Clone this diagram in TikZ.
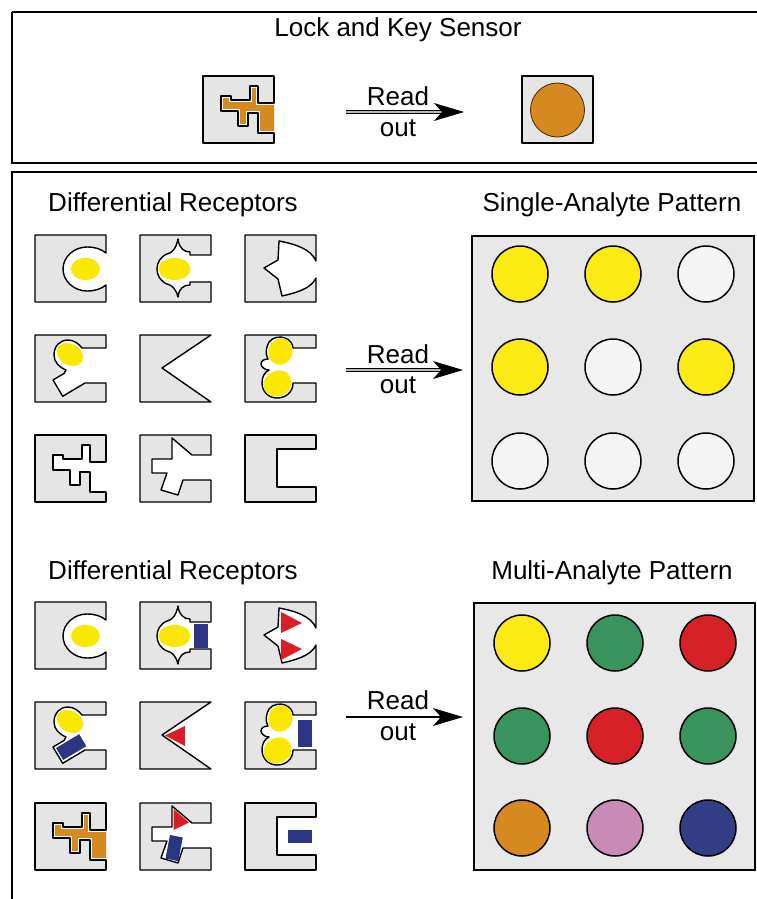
\documentclass[tikz,border=0pt]{standalone}
\usepackage{fontspec}
\setmainfont{Liberation Sans}
\usetikzlibrary{arrows.meta}
\definecolor{boxgray}{RGB}{229,229,229}
\definecolor{patgray}{RGB}{232,232,232}
\definecolor{ylw}{RGB}{250,232,0}
\definecolor{cyel}{RGB}{252,234,20}
\definecolor{cwhite}{RGB}{244,244,244}
\definecolor{cgreen}{RGB}{56,148,92}
\definecolor{cred}{RGB}{214,34,38}
\definecolor{corange}{RGB}{214,137,30}
\definecolor{cpink}{RGB}{201,139,181}
\definecolor{cnavy}{RGB}{52,62,134}
\definecolor{rblue}{RGB}{44,52,132}
\definecolor{rred}{RGB}{218,30,36}
% receptor boxes (local coords: 71 x 67, y downwards)
\newcommand\rcA{\path[rbox] (71,18) -- (71,0) -- (0,0) -- (0,67) -- (71,67) -- (71,50) .. controls (66,54) and (60,56) .. (52,56) .. controls (39,56) and (28,46) .. (28,34) .. controls (28,22) and (39,12) .. (52,12) .. controls (60,12) and (66,14) .. (71,18) -- cycle;}
\newcommand\ylwA{\fill[ylw] (50.5,34) ellipse [x radius=14.5, y radius=11];}
\newcommand\rcB{\path[rbox] (71,20) -- (71,0) -- (0,0) -- (0,67) -- (71,67) -- (71,47) -- (50,47) -- (50,50) .. controls (44,50) and (39,53) .. (38,62) .. controls (36,54) and (32,50) .. (27,49) .. controls (20,46) and (17,40) .. (17,34) .. controls (17,28) and (20,22) .. (27,19) .. controls (32,18) and (36,14) .. (38,4) .. controls (39,13) and (44,17) .. (50,17) -- (50,20) -- cycle;}
\newcommand\ylwB{\fill[ylw] (34.5,34) ellipse [x radius=16, y radius=11];}
\newcommand\rcC{\path[rbox] (71,26) -- (71,0) -- (0,0) -- (0,67) -- (71,67) -- (71,43) .. controls (66,54) and (50,58) .. (37,61) -- (33,44) -- (19,33) -- (33,25) -- (34,6) .. controls (50,9) and (66,14) .. (71,26) -- cycle;}
\newcommand\rcD{\path[rbox] (71,13) -- (71,0) -- (0,0) -- (0,67) -- (71,67) -- (71,48) -- (50,48) -- (27.7,61.3) -- (18,45) -- (29,38.5) -- (31,35) .. controls (24,32) and (19,27) .. (19,20) .. controls (19,11) and (25,5) .. (33,5) .. controls (39,5) and (44,9) .. (47,13) -- cycle;}
\newcommand\ylwD{\fill[ylw, rotate around={-30:(35,19.5)}] (35,19.5) ellipse [x radius=14, y radius=10.5];}
\newcommand\rcE{\path[rbox] (71,0) -- (0,0) -- (0,67) -- (71,67) -- (22,33) -- cycle;}
\newcommand\rcF{\path[rbox] (71,13) -- (71,0) -- (0,0) -- (0,67) -- (71,67) -- (71,48) -- (48,48) .. controls (48,57) and (41,63) .. (32,63) .. controls (23,63) and (17,56) .. (17,48) .. controls (17,41) and (20,37) .. (24,35) .. controls (19,35) and (16,31) .. (16,29) .. controls (16,26) and (19,24) .. (23,24) .. controls (20,19) and (21,12) .. (24,7) .. controls (28,2) and (35,1) .. (40,3) .. controls (45,5) and (48,9) .. (48,13) -- cycle;}
\newcommand\ylwF{\fill[ylw, rotate around={-20:(35.5,16.5)}] (35.5,16.5) ellipse [x radius=12, y radius=13.5];
  \fill[ylw, rotate around={30:(32.5,48.5)}] (32.5,48.5) ellipse [x radius=14.5, y radius=12.5];}
\newcommand\rcG{\path[rbox] (71,27) -- (71,0) -- (0,0) -- (0,67) -- (71,67) -- (71,57) -- (55,57) -- (55,37) -- (45,37) -- (45,50) -- (35,50) -- (35,35) -- (18,35) -- (18,20) -- (28,20) -- (28,24) -- (47,24) -- (47,10) -- (55,10) -- (55,27) -- cycle;}
\newcommand\keyG{\fill[corange] (71,57) -- (55,57) -- (55,37) -- (45,37) -- (45,50) -- (35,50) -- (35,35) -- (18,35) -- (18,20) -- (28,20) -- (28,24) -- (47,24) -- (47,10) -- (55,10) -- (55,27) -- (71,27) -- cycle;
  \begin{scope}
  \clip (71,57) -- (55,57) -- (55,37) -- (45,37) -- (45,50) -- (35,50) -- (35,35) -- (18,35) -- (18,20) -- (28,20) -- (28,24) -- (47,24) -- (47,10) -- (55,10) -- (55,27) -- (71,27) -- cycle;
  \draw[white, line width=3.6pt] (71,57) -- (55,57) -- (55,37) -- (45,37) -- (45,50) -- (35,50) -- (35,35) -- (18,35) -- (18,20) -- (28,20) -- (28,24) -- (47,24) -- (47,10) -- (55,10) -- (55,27) -- (71,27);
  \end{scope}}
\newcommand\rcH{\path[rbox] (71,20) -- (71,0) -- (0,0) -- (0,67) -- (71,67) -- (71,45) -- (43,45) -- (38,60) -- (21,55) -- (27,38) -- (12,38) -- (12,24) -- (32,24) -- (32,3) -- (52,20) -- cycle;}
\newcommand\rcI{\path[rbox] (71,14) -- (71,0) -- (0,0) -- (0,67) -- (71,67) -- (71,52) -- (32,52) -- (32,14) -- cycle;}
\begin{document}
\begin{tikzpicture}[x=1pt,y=-1pt,
  rbox/.style={fill=boxgray,draw=black,line width=1.4pt,line join=round},
  lbl/.style={font=\fontsize{26}{30}\selectfont, inner sep=0pt},
  panel/.style={draw=black,line width=1.4pt},
  pbox/.style={fill=patgray,draw=black,line width=1.6pt},
  dot/.style={circle,draw=black,line width=1.5pt,minimum size=56pt,inner sep=0pt},
  dshaft/.style={draw=black,line width=1.1pt,double=gray!55,double distance=1.8pt},
  sshaft/.style={draw=black,line width=2pt},
  ahead/.style={fill=black}]
\useasboundingbox (0,0) rectangle (757,899);
\clip (0,0) rectangle (757,899);
% panels
\draw[panel] (12,12) -- (765,12) (765,163) -- (12,163) -- (12,12);
\draw[panel, line width=2pt] (12,163) -- (765,163);
\draw[panel] (765,172) -- (12,172) -- (12,905);
% top panel
\node[lbl] (ttl) at (398,30) {Lock and Key Sensor};
\begin{scope}[shift={(203,76)}]\keyG\rcG\end{scope}
\path[rbox] (522,76) rectangle (593,143);
\node[circle, fill=corange, draw=black!70!corange, line width=0.8pt, minimum size=54pt, inner sep=0pt] (res) at (557.5,110) {};
% arrows
\coordinate (a1s) at (346,112); \coordinate (a1e) at (464,112);
\draw[dshaft] (a1s) -- ([xshift=-20pt]a1e);
\fill[ahead] (a1e) -- ++(-30,-9) -- ++(8,9) -- ++(-8,9) -- cycle;
\node[lbl] (r1) at (398,96) {Read};
\node[lbl] (o1) at (398,128) {out};
\coordinate (a2s) at (346,370); \coordinate (a2e) at (463,370);
\draw[dshaft] (a2s) -- ([xshift=-20pt]a2e);
\fill[ahead] (a2e) -- ++(-30,-9) -- ++(8,9) -- ++(-8,9) -- cycle;
\node[lbl] (r2) at (398,354) {Read};
\node[lbl] (o2) at (398,385) {out};
\coordinate (a3s) at (346,717); \coordinate (a3e) at (463,717);
\draw[sshaft] (a3s) -- ([xshift=-20pt]a3e);
\fill[ahead] (a3e) -- ++(-30,-9) -- ++(8,9) -- ++(-8,9) -- cycle;
\node[lbl] (r3) at (398,700) {Read};
\node[lbl] (o3) at (398,732) {out};
% headings
\node[lbl] (h1) at (173,205) {Differential Receptors};
\node[lbl] (h2) at (612,205) {Single-Analyte Pattern};
\node[lbl] (h3) at (173,573) {Differential Receptors};
\node[lbl] (h4) at (612,573) {Multi-Analyte Pattern};
% receptor grid 1
\begin{scope}[shift={(35,235)}]\rcA\ylwA\end{scope}
\begin{scope}[shift={(140,235)}]\rcB\ylwB\end{scope}
\begin{scope}[shift={(245,235)}]\rcC\end{scope}
\begin{scope}[shift={(35,335)}]\rcD\ylwD\end{scope}
\begin{scope}[shift={(140,335)}]\rcE\end{scope}
\begin{scope}[shift={(245,335)}]\rcF\ylwF\end{scope}
\begin{scope}[shift={(35,435)}]\rcG\end{scope}
\begin{scope}[shift={(140,435)}]\rcH\end{scope}
\begin{scope}[shift={(245,435)}]\rcI\end{scope}
% receptor grid 2
\begin{scope}[shift={(35,602)}]\rcA\ylwA\end{scope}
\begin{scope}[shift={(140,602)}]\rcB\ylwB\fill[rblue] (54,22) rectangle (68,46);\end{scope}
\begin{scope}[shift={(245,602)}]\rcC
  \fill[rred] (36,10) -- (36,31) -- (57,21) -- cycle;
  \fill[rred] (36,37) -- (36,58) -- (57,47) -- cycle;\end{scope}
\begin{scope}[shift={(35,702)}]\rcD\ylwD
  \fill[rblue] (21,46) -- (44.2,32.2) -- (51.3,44.2) -- (28.1,58) -- cycle;\end{scope}
\begin{scope}[shift={(140,702)}]\rcE\fill[rred] (25,33.5) -- (45,24) -- (45,44) -- cycle;\end{scope}
\begin{scope}[shift={(245,702)}]\rcF\ylwF\fill[rblue] (53,18) rectangle (67,45);\end{scope}
\begin{scope}[shift={(35,803)}]\keyG\rcG\end{scope}
\begin{scope}[shift={(140,803)}]\rcH
  \fill[rred] (33.5,6) -- (33.5,27) -- (49,19.5) -- cycle;
  \fill[rblue] (30,32) -- (42.8,34.5) -- (38.3,58.1) -- (25.5,55.6) -- cycle;\end{scope}
\begin{scope}[shift={(245,803)}]\rcI\fill[rblue] (43,27) rectangle (67,40);\end{scope}
% single-analyte pattern
\path[pbox] (472,236) rectangle (754,501);
\node[dot, fill=cyel]   (s11) at (520,274) {};
\node[dot, fill=cyel]   (s12) at (613,274) {};
\node[dot, fill=cwhite] (s13) at (706,274) {};
\node[dot, fill=cyel]   (s21) at (520,367) {};
\node[dot, fill=cwhite] (s22) at (613,367) {};
\node[dot, fill=cyel]   (s23) at (706,367) {};
\node[dot, fill=cwhite] (s31) at (520,461) {};
\node[dot, fill=cwhite] (s32) at (613,461) {};
\node[dot, fill=cwhite] (s33) at (706,461) {};
% multi-analyte pattern
\path[pbox] (474,603) rectangle (755,870);
\node[dot, fill=cyel]    (m11) at (522,643) {};
\node[dot, fill=cgreen]  (m12) at (615,643) {};
\node[dot, fill=cred]    (m13) at (708,643) {};
\node[dot, fill=cgreen]  (m21) at (522,736) {};
\node[dot, fill=cred]    (m22) at (615,736) {};
\node[dot, fill=cgreen]  (m23) at (708,736) {};
\node[dot, fill=corange] (m31) at (522,828) {};
\node[dot, fill=cpink]   (m32) at (615,828) {};
\node[dot, fill=cnavy]   (m33) at (708,828) {};
\end{tikzpicture}
\end{document}
